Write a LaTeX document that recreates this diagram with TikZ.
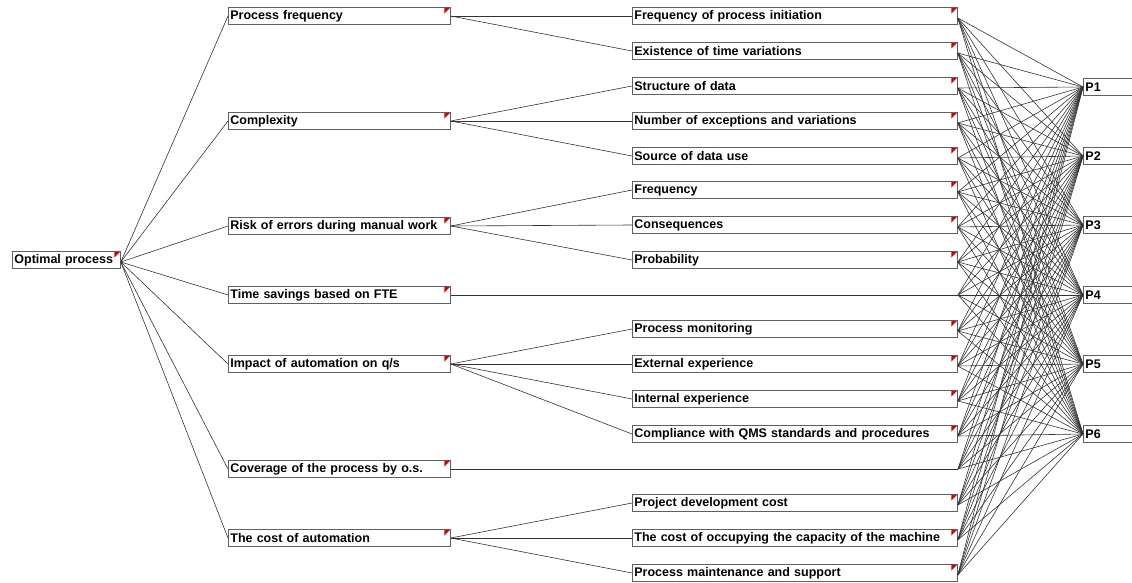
\documentclass[tikz,border=0pt]{standalone}
\usepackage{fontspec}
\setmainfont{Liberation Sans}
\begin{document}
\begin{tikzpicture}[x=1pt,y=-1pt,
		box/.style={draw=gray!75!black,fill=white,line width=0.8pt,anchor=west,
			inner xsep=2pt,inner ysep=0pt,minimum height=17pt,align=left,
			font=\bfseries\fontsize{12.5}{14}\selectfont,
			path picture={\fill[red!85!black] (path picture bounding box.north east)
				-- ++(-6pt,0) -- ++(0,-6pt) -- cycle;}},
		goalbox/.style={box,text width=104pt},
		critbox/.style={box,text width=218pt},
		subbox/.style={box,text width=321pt},
		altbox/.style={box,text width=60pt},
		link/.style={line width=0.6pt,black!80},
		]
		\useasboundingbox (0,0) rectangle (1132,583);
		
		% cel
		\node[goalbox] (goal) at (12,260) {Optimal process};
		
		% kryteria
		\foreach \y/\n/\t in {16/c1/Process frequency,121/c2/Complexity,
			226/c3/Risk of errors during manual work,295/c4/Time savings based on FTE,
			364/c5/{Impact of automation on q/s},469/c6/Coverage of the process by o.s.,
			538/c7/The cost of automation}
		\node[critbox] (\n) at (228,\y) {\t};
		
		% podkryteria
		\foreach \y/\n/\t in {16/s1/Frequency of process initiation,
			51/s2/Existence of time variations,86/s3/Structure of data,
			121/s4/Number of exceptions and variations,156/s5/Source of data use,
			190/s6/Frequency,225/s7/Consequences,260/s8/Probability,
			329/s9/Process monitoring,364/s10/External experience,
			399/s11/Internal experience,434/s12/Compliance with QMS standards and procedures,
			503/s13/Project development cost,538/s14/The cost of occupying the capacity of the machine,
			573/s15/Process maintenance and support}
		\node[subbox] (\n) at (632,\y) {\t};
		
		% warianty
		\foreach \y/\n in {87/1,156/2,225/3,295/4,364/5,434/6}
		\node[altbox] (p\n) at (1083,\y) {P\n};
		
		% kryteria bez podkryteriow
		\coordinate (c4e) at (958,295);
		\coordinate (c6e) at (958,469);
		\draw[link] (c4.east) -- (c4e);
		\draw[link] (c6.east) -- (c6e);
		
		% cel -> kryteria
		\foreach \n in {1,...,7}
		\draw[link] ([yshift=-2pt]goal.east) -- (c\n.west);
		
		% kryteria -> podkryteria
		\foreach \a/\b in {c1/s1,c1/s2,c2/s3,c2/s4,c2/s5,c3/s6,c3/s7,c3/s8,
			c5/s9,c5/s10,c5/s11,c5/s12,c7/s13,c7/s14,c7/s15}
		\draw[link] (\a.east) -- (\b.west);
		
		% podkryteria -> warianty
		\foreach \s in {1,...,15}
		\foreach \p in {1,...,6}
		\draw[link] ([yshift=-2pt]s\s.east) -- (p\p.west);
		\foreach \p in {1,...,6}
		{\draw[link] (c4e) -- (p\p.west);
			\draw[link] (c6e) -- (p\p.west);}
	\end{tikzpicture}
\end{document}
